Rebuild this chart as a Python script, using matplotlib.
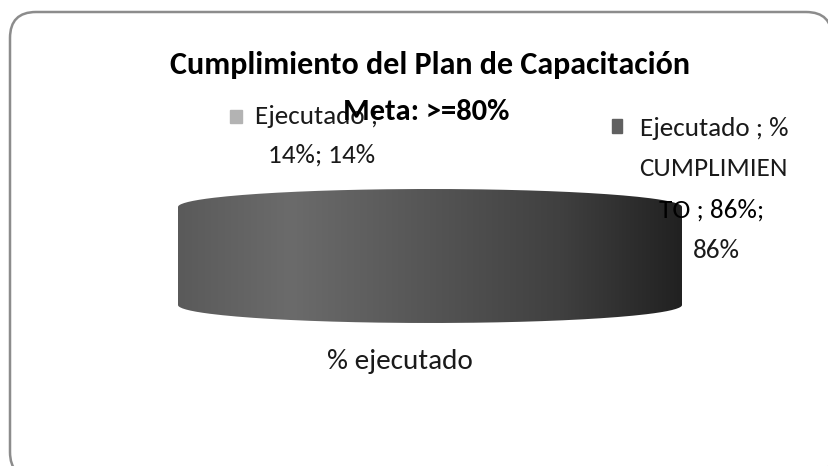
import numpy as np
import matplotlib
matplotlib.use('Agg')
from matplotlib import pyplot as plt
from matplotlib.path import Path
from matplotlib.patches import PathPatch, FancyBboxPatch, Rectangle

title = 'Cumplimiento del Plan de Capacitación'
subtitle = 'Meta: >=80%'
category = '% ejecutado'
series = ['Ejecutado', 'Ejecutado ; % CUMPLIMIENTO']
values = [14, 86]
colors = ['#b3b3b3', '#606060']

plt.rcParams['font.family'] = ['Carlito', 'Lato', 'DejaVu Sans']

fig = plt.figure(figsize=(8.29, 4.66), dpi=100)
ax = fig.add_axes([0, 0, 1, 1])
ax.set_xlim(0, 829)
ax.set_ylim(466, 0)
ax.axis('off')

# outer frame
ax.add_patch(FancyBboxPatch((10, 12), 822, 466, boxstyle='round,pad=0,rounding_size=26',
                            fc='white', ec='#8c8c8c', lw=1.8))

# cylinder (3D pie seen edge-on, only the big slice is visible)
cx, left, right = 430, 178, 682
a = (right - left) / 2
top_y, bot_y, b = 207, 305, 18
t = np.linspace(np.pi, 0, 100)
top = np.c_[cx + a * np.cos(t), top_y - b * np.sin(t)]
t2 = np.linspace(0, np.pi, 100)
bot = np.c_[cx + a * np.cos(t2), bot_y + b * np.sin(t2)]
verts = np.vstack([top, bot, top[:1]])
clip = PathPatch(Path(verts), fc='none', ec='none')
ax.add_patch(clip)

xs = np.linspace(left, right, 400)
kx = [left, 290, 430, 560, right]
kv = [0x5a, 0x6b, 0x55, 0x40, 0x21]
g = np.interp(xs, kx, kv) / 255
img = np.tile(np.c_[g, g, g][None, :, :], (2, 1, 1))
im = ax.imshow(img, extent=[left, right, bot_y + b, top_y - b], aspect='auto',
               interpolation='bilinear', zorder=2)
im.set_clip_path(clip)

# title texts
ax.text(430, 65, title, ha='center', va='center', fontsize=23, fontweight='bold', color='#000000')

# data labels with legend keys
lbl = '#1a1a1a'
fs = 19.5
ax.add_patch(Rectangle((230, 110), 12, 13, color=colors[0], zorder=3))
ax.text(255, 117, 'Ejecutado ;', ha='left', va='center', fontsize=fs, color=lbl)
ax.text(322, 155, f'{values[0]}%; {values[0]}%', ha='center', va='center', fontsize=fs, color=lbl)
ax.text(426, 112, subtitle, ha='center', va='center', fontsize=22, fontweight='bold', color='#000000')

ax.add_patch(Rectangle((612, 119), 10, 14, color=colors[1], zorder=3))
ax.text(640, 128, 'Ejecutado ; %', ha='left', va='center', fontsize=fs, color=lbl)
ax.text(713, 169, 'CUMPLIMIEN', ha='center', va='center', fontsize=fs, color=lbl)
ax.text(712, 210, f'TO ; {values[1]}%;', ha='center', va='center', fontsize=fs, color='black', zorder=4)
ax.text(716, 250, f'{values[1]}%', ha='center', va='center', fontsize=fs, color=lbl)

ax.text(400, 361, category, ha='center', va='center', fontsize=21, color=lbl)

fig.savefig('out.png', dpi=100)
